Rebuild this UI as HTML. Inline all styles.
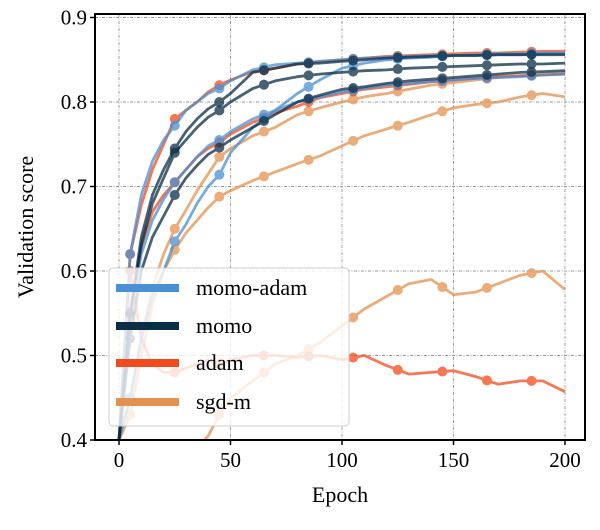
<!DOCTYPE html>
<html><head><meta charset="utf-8"><style>
body{margin:0;background:#fff;}
svg text{font-family:"Liberation Serif",serif;fill:#000;}
</style></head><body>
<svg id="chart" width="600" height="525" viewBox="0 0 600 525" xmlns="http://www.w3.org/2000/svg">
<g id="grid"></g>
<g id="series"></g>
<rect x="95" y="14" width="490" height="426" fill="none" stroke="#000" stroke-width="2"/>
<g id="ticks"></g>
<text x="340" y="502" font-size="22" text-anchor="middle">Epoch</text>
<text transform="translate(33,227) rotate(-90)" font-size="22" text-anchor="middle">Validation score</text>
<g id="legend"></g>
</svg>
<script>
const epochs=[0,5,10,15,20,25,30,35,40,45,50,60,70,80,90,100,110,120,130,140,150,160,170,180,190,200];
const xTicks=[0,50,100,150,200];
const yTicks=[0.4,0.5,0.6,0.7,0.8,0.9];
const legendLabels=["momo-adam","momo","adam","sgd-m"];
const colors=["#4a90d4","#0b2d45","#f24a1c","#e3914f"];
const momoAdam1=[0.40,0.62,0.69,0.73,0.755,0.772,0.79,0.80,0.81,0.816,0.825,0.838,0.844,0.846,0.848,0.850,0.852,0.853,0.854,0.855,0.855,0.856,0.857,0.857,0.858,0.858];
const momoAdam2=[0.40,0.45,0.52,0.57,0.60,0.635,0.655,0.68,0.70,0.714,0.74,0.77,0.79,0.81,0.826,0.84,0.846,0.85,0.852,0.853,0.855,0.855,0.856,0.856,0.857,0.857];
const momoAdam3=[0.40,0.55,0.62,0.66,0.685,0.705,0.72,0.735,0.748,0.755,0.765,0.78,0.79,0.80,0.806,0.812,0.816,0.82,0.822,0.824,0.826,0.828,0.829,0.830,0.832,0.833];
const momo1=[0.40,0.55,0.64,0.69,0.72,0.745,0.765,0.78,0.792,0.80,0.81,0.835,0.840,0.845,0.846,0.848,0.850,0.852,0.853,0.854,0.855,0.855,0.856,0.856,0.856,0.856];
const momo2=[0.40,0.55,0.63,0.68,0.71,0.74,0.755,0.77,0.782,0.79,0.80,0.816,0.825,0.83,0.833,0.835,0.837,0.838,0.840,0.841,0.842,0.843,0.844,0.845,0.845,0.846];
const momo3=[0.40,0.52,0.60,0.64,0.665,0.69,0.71,0.725,0.738,0.746,0.755,0.77,0.785,0.80,0.808,0.815,0.818,0.822,0.825,0.827,0.829,0.831,0.833,0.835,0.836,0.837];
const adam1=[0.40,0.62,0.678,0.72,0.75,0.78,0.79,0.80,0.812,0.82,0.826,0.836,0.84,0.845,0.848,0.850,0.852,0.854,0.855,0.856,0.857,0.858,0.858,0.859,0.860,0.860];
const adam2=[0.40,0.54,0.63,0.67,0.69,0.705,0.72,0.735,0.745,0.752,0.762,0.776,0.787,0.795,0.805,0.81,0.815,0.818,0.821,0.824,0.826,0.828,0.830,0.831,0.832,0.833];
const adam3=[0.40,0.60,0.52,0.49,0.48,0.48,0.485,0.49,0.495,0.49,0.495,0.50,0.50,0.498,0.50,0.495,0.50,0.488,0.478,0.480,0.482,0.475,0.466,0.47,0.47,0.457];
const sgd1=[0.40,0.45,0.52,0.58,0.62,0.65,0.672,0.695,0.715,0.735,0.745,0.760,0.770,0.785,0.793,0.800,0.806,0.810,0.815,0.820,0.823,0.826,0.829,0.831,0.833,0.834];
const sgd2=[0.40,0.43,0.50,0.56,0.60,0.625,0.645,0.66,0.675,0.688,0.695,0.707,0.717,0.727,0.736,0.748,0.76,0.768,0.776,0.785,0.793,0.797,0.80,0.806,0.81,0.806];
const sgd3=[0.30,0.32,0.34,0.35,0.36,0.37,0.38,0.39,0.405,0.43,0.45,0.47,0.49,0.50,0.515,0.535,0.555,0.57,0.585,0.59,0.572,0.575,0.585,0.595,0.60,0.578];
const seriesList=[
 {name:"sgd-m-run-3",c:3,v:sgd3},{name:"sgd-m-run-2",c:3,v:sgd2},{name:"sgd-m-run-1",c:3,v:sgd1},
 {name:"adam-run-3",c:2,v:adam3},{name:"adam-run-2",c:2,v:adam2},{name:"adam-run-1",c:2,v:adam1},
 {name:"momo-adam-run-3",c:0,v:momoAdam3},{name:"momo-adam-run-2",c:0,v:momoAdam2},{name:"momo-adam-run-1",c:0,v:momoAdam1},
 {name:"momo-run-3",c:1,v:momo3},{name:"momo-run-2",c:1,v:momo2},{name:"momo-run-1",c:1,v:momo1}
];
const NS="http://www.w3.org/2000/svg";
const X0=95,X1=585,Y0=14,Y1=440;
function sx(e){return 119+(e/200)*446;}
function sy(v){return 440-(v-0.4)/0.5*422.5;}
function mk(tag,attrs,parent){const el=document.createElementNS(NS,tag);for(const k in attrs)el.setAttribute(k,attrs[k]);parent.appendChild(el);return el;}
const grid=document.getElementById('grid'),ticks=document.getElementById('ticks');
xTicks.forEach(t=>{
 const l=mk('line',{x1:sx(t),x2:sx(t),y1:Y0,y2:Y1,stroke:'#999','stroke-width':0.9,'stroke-dasharray':'3,1.5,1,1.5'},grid);
 
 
 const tk=mk('line',{x1:sx(t),x2:sx(t),y1:Y1,y2:Y1+5,stroke:'#000','stroke-width':1.5},ticks);
 
 
 const tx=mk('text',{x:sx(t),y:467,'font-size':21,'text-anchor':'middle'},ticks);tx.textContent=t;
 
 
});
yTicks.forEach(t=>{
 const l=mk('line',{x1:X0,x2:X1,y1:sy(t),y2:sy(t),stroke:'#999','stroke-width':0.9,'stroke-dasharray':'3,1.5,1,1.5'},grid);
 
 
 const tk=mk('line',{x1:X0-5,x2:X0,y1:sy(t),y2:sy(t),stroke:'#000','stroke-width':1.5},ticks);
 
 
 const tx=mk('text',{x:X0-8,y:sy(t)+7,'font-size':21,'text-anchor':'end'},ticks);tx.textContent=t.toFixed(1);
 
 
});
const sg=document.getElementById('series');
const cp=mk('clipPath',{id:'clip'},sg);
mk('rect',{x:X0,y:Y0,width:X1-X0,height:Y1-Y0},cp);
function interp(v,e){for(let i=1;i<epochs.length;i++){if(e<=epochs[i]){const t=(e-epochs[i-1])/(epochs[i]-epochs[i-1]);return v[i-1]+t*(v[i]-v[i-1]);}}return v[v.length-1];}
seriesList.forEach(s=>{
 const g=mk('g',{'clip-path':'url(#clip)',opacity:0.75},sg);
 
 
 const d=s.v.map((v,i)=>(i?'L':'M')+sx(epochs[i]).toFixed(1)+','+sy(v).toFixed(1)).join('');
 const p=mk('path',{d:d,fill:'none',stroke:colors[s.c],'stroke-width':2.8,'stroke-linejoin':'round'},g);
 
 
 for(let e=5;e<=200;e+=20){
  const c=mk('circle',{cx:sx(e),cy:sy(interp(s.v,e)),r:5,fill:colors[s.c]},g);
  
  
 }
});
const lg=document.getElementById('legend');
const box=mk('rect',{x:109,y:268,width:240,height:158,rx:4,fill:'#fff','fill-opacity':0.8,stroke:'#ccc','stroke-width':1},lg);


const ly=[288,326,363,402];
legendLabels.forEach((lab,i)=>{
 const r=mk('rect',{x:116,y:ly[i]-4,width:63,height:8,fill:colors[i]},lg);
 
 
 const t=mk('text',{x:196,y:ly[i]+7,'font-size':22},lg);t.textContent=lab;
 
 
});
</script>
</body></html>
